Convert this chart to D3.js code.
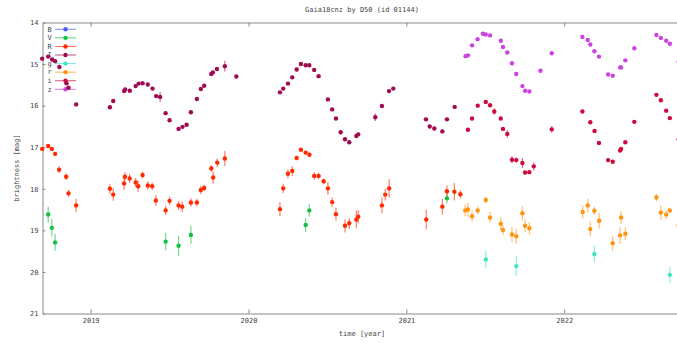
<!DOCTYPE html>
<html>
<head>
<meta charset="utf-8">
<script src="https://cdn.jsdelivr.net/npm/d3@7"></script>
<style>
  body { margin: 0; background: #fff; }
  text { font-family: "DejaVu Sans Mono", monospace; font-size: 7px; fill: #444; }
</style>
</head>
<body>
<svg id="chart" width="677" height="343"></svg>
<script>
// Light curve of Gaia18cnz: each observation is [decimal year, magnitude, error]
const bands = ["B", "V", "R", "I", "g", "r", "i", "z"];
const bandColors = ["#4a5cf0", "#14c040", "#ff2a00", "#a00a50", "#40e6c4", "#ff9410", "#cc0a3c", "#cc44e0"];
const yearTicks = [2019, 2020, 2021, 2022];
const magTicks = [14, 15, 16, 17, 18, 19, 20, 21];

const obsB = [];

const obsV = [
  [2018.731, 18.62, 0.19], [2018.754, 18.94, 0.21], [2018.775, 19.29, 0.20],
  [2019.475, 19.27, 0.21], [2019.557, 19.37, 0.24], [2019.635, 19.11, 0.22],
  [2020.362, 18.87, 0.17], [2020.385, 18.52, 0.15], [2021.257, 18.23, 0.12]
];

const obsR = [
  [2018.693, 17.04, 0.03], [2018.731, 16.97, 0.03], [2018.754, 17.04, 0.03], [2018.775, 17.16, 0.03],
  [2018.800, 17.54, 0.08], [2018.845, 17.71, 0.08], [2018.860, 18.11, 0.09], [2018.908, 18.40, 0.16],
  [2019.122, 18.00, 0.12], [2019.143, 18.14, 0.15], [2019.212, 17.87, 0.16], [2019.217, 17.71, 0.11],
  [2019.247, 17.75, 0.11], [2019.285, 17.85, 0.11], [2019.301, 17.94, 0.14], [2019.329, 17.67, 0.08],
  [2019.362, 17.92, 0.10], [2019.390, 17.94, 0.09], [2019.413, 18.28, 0.13], [2019.475, 18.52, 0.11],
  [2019.500, 18.29, 0.10], [2019.557, 18.40, 0.11], [2019.580, 18.43, 0.13], [2019.635, 18.33, 0.10],
  [2019.673, 18.33, 0.09], [2019.698, 18.03, 0.10], [2019.719, 17.98, 0.08], [2019.764, 17.51, 0.08],
  [2019.776, 17.73, 0.15], [2019.802, 17.37, 0.10], [2019.850, 17.27, 0.18],
  [2020.199, 18.49, 0.17], [2020.220, 17.99, 0.11], [2020.250, 17.64, 0.11], [2020.277, 17.57, 0.12],
  [2020.305, 17.26, 0.05], [2020.332, 17.06, 0.04], [2020.362, 17.13, 0.04], [2020.386, 17.18, 0.05],
  [2020.416, 17.69, 0.09], [2020.444, 17.69, 0.08], [2020.476, 17.82, 0.07], [2020.503, 17.99, 0.16],
  [2020.530, 18.32, 0.11], [2020.554, 18.61, 0.16], [2020.611, 18.89, 0.16], [2020.638, 18.83, 0.13],
  [2020.683, 18.74, 0.21], [2020.695, 18.67, 0.16], [2020.845, 18.40, 0.19], [2020.866, 18.14, 0.14],
  [2020.891, 17.99, 0.22], [2021.126, 18.74, 0.24], [2021.228, 18.43, 0.19], [2021.257, 18.06, 0.14],
  [2021.304, 18.07, 0.21], [2021.342, 18.13, 0.10]
];

const obsI = [
  [2018.693, 14.87, 0.03], [2018.731, 14.82, 0.03], [2018.756, 14.89, 0.03], [2018.775, 14.93, 0.03],
  [2018.802, 15.07, 0.03], [2018.847, 15.46, 0.03], [2018.860, 15.57, 0.03], [2018.908, 15.97, 0.03],
  [2019.122, 16.04, 0.03], [2019.143, 15.89, 0.03], [2019.212, 15.65, 0.03], [2019.219, 15.61, 0.03],
  [2019.248, 15.64, 0.03], [2019.285, 15.53, 0.03], [2019.304, 15.47, 0.03], [2019.329, 15.46, 0.03],
  [2019.362, 15.49, 0.03], [2019.392, 15.59, 0.03], [2019.415, 15.77, 0.04], [2019.440, 15.79, 0.12],
  [2019.475, 16.18, 0.03], [2019.500, 16.35, 0.03], [2019.557, 16.56, 0.03], [2019.582, 16.51, 0.03],
  [2019.608, 16.46, 0.04], [2019.635, 16.16, 0.03], [2019.673, 15.84, 0.03], [2019.698, 15.60, 0.03],
  [2019.719, 15.52, 0.03], [2019.764, 15.24, 0.03], [2019.774, 15.20, 0.03], [2019.800, 15.12, 0.03],
  [2019.850, 15.05, 0.13], [2019.923, 15.30, 0.03],
  [2020.199, 15.68, 0.03], [2020.220, 15.59, 0.03], [2020.250, 15.47, 0.03], [2020.277, 15.32, 0.03],
  [2020.305, 15.13, 0.03], [2020.332, 15.00, 0.03], [2020.362, 15.03, 0.03], [2020.385, 15.03, 0.03],
  [2020.416, 15.14, 0.03], [2020.444, 15.29, 0.03], [2020.503, 15.85, 0.03], [2020.530, 16.09, 0.03],
  [2020.554, 16.31, 0.03], [2020.584, 16.64, 0.05], [2020.611, 16.81, 0.03], [2020.638, 16.88, 0.03],
  [2020.683, 16.73, 0.03], [2020.695, 16.69, 0.03], [2020.803, 16.28, 0.09], [2020.845, 16.01, 0.03],
  [2020.890, 15.65, 0.03], [2020.917, 15.59, 0.03],
  [2021.124, 16.33, 0.04], [2021.148, 16.50, 0.03], [2021.177, 16.55, 0.03], [2021.228, 16.62, 0.03],
  [2021.257, 16.33, 0.03], [2021.306, 16.03, 0.03]
];

const obsg = [
  [2021.503, 19.70, 0.21], [2021.696, 19.86, 0.23], [2022.191, 19.57, 0.20], [2022.669, 20.07, 0.19]
];

const obsr = [
  [2021.373, 18.52, 0.14], [2021.390, 18.50, 0.17], [2021.416, 18.66, 0.13], [2021.452, 18.52, 0.10],
  [2021.503, 18.27, 0.07], [2021.530, 18.69, 0.13], [2021.598, 18.84, 0.16], [2021.612, 18.99, 0.12],
  [2021.669, 19.10, 0.18], [2021.696, 19.14, 0.18], [2021.735, 18.59, 0.17], [2021.752, 18.89, 0.15],
  [2021.779, 18.95, 0.15], [2022.117, 18.56, 0.16], [2022.149, 18.40, 0.16], [2022.165, 18.97, 0.18],
  [2022.191, 18.53, 0.10], [2022.221, 18.77, 0.19], [2022.307, 19.31, 0.18], [2022.354, 19.12, 0.20],
  [2022.360, 18.69, 0.15], [2022.387, 19.08, 0.15], [2022.584, 18.21, 0.09], [2022.612, 18.57, 0.18],
  [2022.646, 18.62, 0.11], [2022.669, 18.52, 0.07], [2022.725, 18.88, 0.10]
];

const obsi = [
  [2021.390, 16.58, 0.03], [2021.416, 16.31, 0.03], [2021.452, 16.00, 0.03], [2021.503, 15.91, 0.03],
  [2021.530, 15.99, 0.03], [2021.557, 16.14, 0.08], [2021.598, 16.31, 0.03], [2021.612, 16.56, 0.03],
  [2021.639, 16.68, 0.10], [2021.669, 17.30, 0.08], [2021.696, 17.31, 0.06], [2021.735, 17.38, 0.12],
  [2021.752, 17.61, 0.04], [2021.779, 17.60, 0.04], [2021.807, 17.46, 0.10], [2021.921, 16.57, 0.08],
  [2022.115, 16.14, 0.03], [2022.165, 16.40, 0.03], [2022.192, 16.61, 0.03], [2022.220, 16.90, 0.03],
  [2022.278, 17.31, 0.03], [2022.307, 17.35, 0.03], [2022.354, 17.08, 0.03], [2022.360, 17.04, 0.03],
  [2022.387, 16.88, 0.03], [2022.444, 16.39, 0.03], [2022.584, 15.74, 0.03], [2022.612, 15.87, 0.03],
  [2022.646, 16.12, 0.03], [2022.669, 16.30, 0.03], [2022.725, 16.81, 0.03]
];

const obsz = [
  [2021.375, 14.81, 0.02], [2021.390, 14.79, 0.02], [2021.416, 14.55, 0.02], [2021.451, 14.40, 0.02],
  [2021.485, 14.27, 0.02], [2021.503, 14.29, 0.02], [2021.530, 14.31, 0.02], [2021.598, 14.44, 0.02],
  [2021.612, 14.59, 0.02], [2021.639, 14.72, 0.02], [2021.669, 14.98, 0.02], [2021.696, 15.24, 0.02],
  [2021.735, 15.53, 0.02], [2021.752, 15.64, 0.02], [2021.779, 15.66, 0.02], [2021.849, 15.16, 0.02],
  [2021.921, 14.74, 0.02], [2022.115, 14.35, 0.02], [2022.149, 14.42, 0.02], [2022.165, 14.53, 0.02],
  [2022.191, 14.69, 0.02], [2022.220, 14.82, 0.02], [2022.278, 15.25, 0.02], [2022.307, 15.28, 0.02],
  [2022.354, 15.08, 0.02], [2022.360, 15.08, 0.02], [2022.387, 14.91, 0.02], [2022.444, 14.62, 0.02],
  [2022.584, 14.30, 0.02], [2022.612, 14.37, 0.02], [2022.646, 14.44, 0.02], [2022.669, 14.51, 0.02],
  [2022.725, 14.95, 0.02]
];

const series = [obsB, obsV, obsR, obsI, obsg, obsr, obsi, obsz];

const svg = d3.select("#chart");
const plotLeft = 42.5, plotTop = 22.5, plotBottom = 313.5, plotRight = 700;

const x = d3.scaleLinear().domain([2018.695, 2022.86]).range([plotLeft, plotRight]);
const y = d3.scaleLinear().domain([14, 21]).range([plotTop, plotBottom]);

// frame + axes (ticks point inward)
const axisColor = "#888";
function styleAxis(g) {
  g.selectAll(".domain").attr("stroke", axisColor);
  g.selectAll(".tick line").attr("stroke", axisColor);
  g.selectAll("text").attr("fill", "#444").style("font-size", "7px")
    .style("font-family", '"DejaVu Sans Mono", monospace');
}

svg.append("g").attr("transform", `translate(0,${plotBottom})`)
  .call(d3.axisBottom(x).tickValues(yearTicks).tickFormat(d3.format("d"))
    .tickSizeInner(-4).tickSizeOuter(0).tickPadding(5))
  .call(styleAxis);

svg.append("g").attr("transform", `translate(0,${plotTop})`)
  .call(d3.axisTop(x).tickValues(yearTicks).tickFormat("")
    .tickSizeInner(-4).tickSizeOuter(0))
  .call(styleAxis);

svg.append("g").attr("transform", `translate(${plotLeft},0)`)
  .call(d3.axisLeft(y).tickValues(magTicks).tickFormat(d3.format("d"))
    .tickSizeInner(-3).tickSizeOuter(0).tickPadding(4))
  .call(styleAxis);

// title and axis labels
svg.append("text").attr("x", 362).attr("y", 11.5).attr("text-anchor", "middle")
  .text("Gaia18cnz by D50 (id 01144)");
svg.append("text").attr("x", 362).attr("y", 336).attr("text-anchor", "middle")
  .text("time [year]");
svg.append("text").attr("transform", "translate(18.5,168) rotate(-90)")
  .attr("text-anchor", "middle").text("brightness [mag]");

// legend
const legendY = d3.scalePoint().domain(bands).range([29.3, 89.3]);
const legend = svg.append("g");
bands.forEach((b, k) => {
  const ly = legendY(b);
  legend.append("text").attr("x", 47.5).attr("y", ly).attr("dy", "0.32em").text(b);
  legend.append("line").attr("x1", 55).attr("x2", 76).attr("y1", ly).attr("y2", ly)
    .attr("stroke", bandColors[k]).attr("stroke-opacity", 0.7).attr("stroke-width", 1);
  legend.append("circle").attr("cx", 65.5).attr("cy", ly).attr("r", 2.2).attr("fill", bandColors[k]);
});

// observations with error bars
const marks = svg.append("g");
series.forEach((obs, k) => {
  const g = marks.append("g");
  g.selectAll("line").data(obs).join("line")
    .attr("x1", d => x(d[0])).attr("x2", d => x(d[0]))
    .attr("y1", d => y(d[1] - d[2])).attr("y2", d => y(d[1] + d[2]))
    .attr("stroke", bandColors[k]).attr("stroke-opacity", 0.6).attr("stroke-width", 1.2);
  g.selectAll("circle").data(obs).join("circle")
    .attr("cx", d => x(d[0])).attr("cy", d => y(d[1])).attr("r", 2.2)
    .attr("fill", bandColors[k]);
});
</script>
</body>
</html>
